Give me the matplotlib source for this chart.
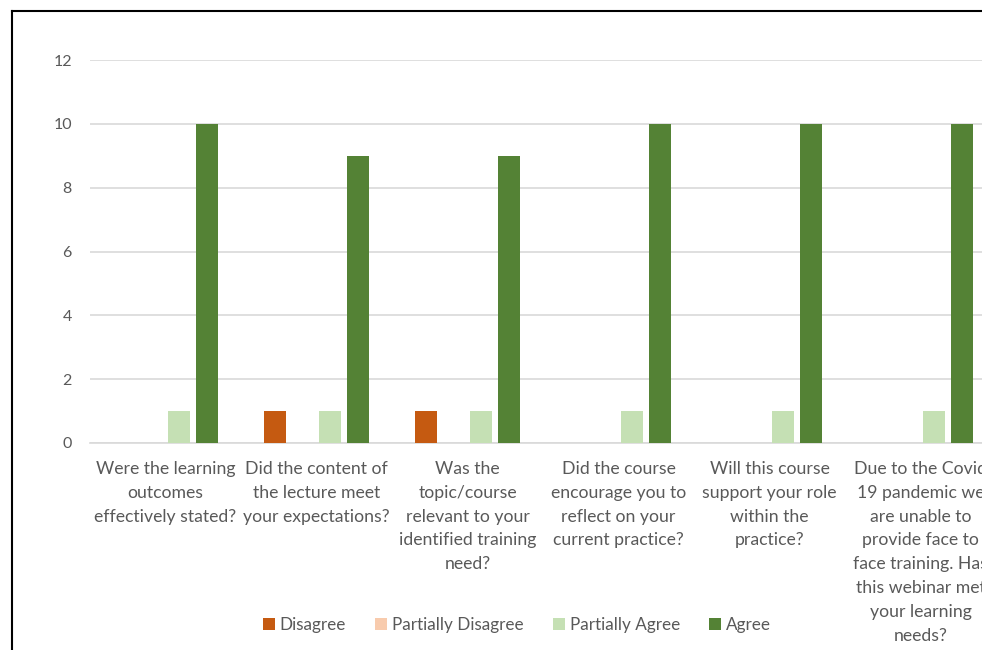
import numpy as np
import matplotlib.pyplot as plt
from matplotlib.lines import Line2D
from matplotlib.patches import Patch

plt.rcParams['font.family'] = ['Lato', 'DejaVu Sans']

questions = [
    "Were the learning\noutcomes\neffectively stated?",
    "Did the content of\nthe lecture meet\nyour expectations?",
    "Was the\ntopic/course\nrelevant to your\nidentified training\nneed?",
    "Did the course\nencourage you to\nreflect on your\ncurrent practice?",
    "Will this course\nsupport your role\nwithin the\npractice?",
    "Due to the Covid\n19 pandemic we\nare unable to\nprovide face to\nface training. Has\nthis webinar met\nyour learning\nneeds?",
]
series_names = ["Disagree", "Partially Disagree", "Partially Agree", "Agree"]
disagree = [0, 1, 1, 0, 0, 0]
partially_disagree = [0, 0, 0, 0, 0, 0]
partially_agree = [1, 1, 1, 1, 1, 1]
agree = [10, 9, 9, 10, 10, 10]
colors = ["#C55A11", "#F8CBAD", "#C5E0B4", "#548235"]

W, H = 982, 650
fig = plt.figure(figsize=(W / 100, H / 100), dpi=100)
ax = fig.add_axes([90 / W, (H - 443) / H, (996 - 90) / W, (443 - 60) / H])

x = np.arange(len(questions))
width = 0.146
step = 0.182
all_vals = [disagree, partially_disagree, partially_agree, agree]
for i, vals in enumerate(all_vals):
    ax.bar(x + (i - 1.5) * step, vals, width, color=colors[i], label=series_names[i], zorder=3)

ax.set_xlim(-0.5, len(questions) - 0.5)
ax.set_ylim(0, 12)
ax.set_yticks(range(0, 13, 2))
ax.yaxis.grid(True, color="#D9D9D9", linewidth=1.2, zorder=0)
ax.set_axisbelow(True)
for s in ["top", "right", "left"]:
    ax.spines[s].set_visible(False)
ax.spines["bottom"].set_color("#D9D9D9")
ax.spines["bottom"].set_linewidth(1.2)
ax.tick_params(axis="both", length=0, colors="#595959")
ax.tick_params(axis="y", labelsize=11.5, pad=13)
ax.set_xticks(x)
ax.set_xticklabels(questions, fontsize=12.7, color="#595959", linespacing=1.6)
ax.tick_params(axis="x", pad=13)

handles = [Patch(facecolor=c, edgecolor="none") for c in colors]
fig.legend(handles, series_names, loc="center", bbox_to_anchor=(517 / W, (H - 625) / H),
           ncol=4, frameon=False, fontsize=12.3, handlelength=0.7, handleheight=0.7,
           handletextpad=0.3, columnspacing=1.7, labelcolor="#595959")

# outer frame edge of the original chart box
fig.add_artist(Line2D([12 / W, 1], [(H - 11) / H, (H - 11) / H], color="black", linewidth=1.5))
fig.add_artist(Line2D([12 / W, 12 / W], [0, (H - 11) / H], color="black", linewidth=1.5))

fig.savefig("out.png", dpi=100)
